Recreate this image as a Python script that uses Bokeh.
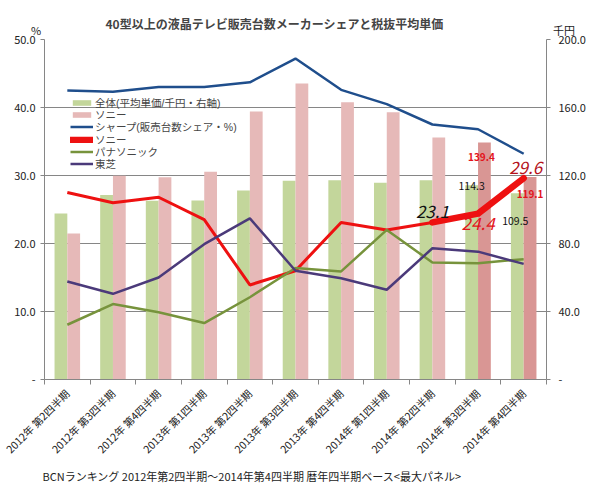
from math import pi
from bokeh.plotting import figure
from bokeh.models import (ColumnDataSource, Range1d, LinearAxis, FixedTicker,
                          PrintfTickFormatter, Legend, LegendItem, Label, Title)
from bokeh.transform import dodge
from bokeh.embed import file_html
from bokeh.resources import INLINE

FONT = "Noto Sans CJK JP"
LFONT = "Liberation Sans, Noto Sans CJK JP"

quarters = ["2012年 第2四半期", "2012年 第3四半期", "2012年 第4四半期",
            "2013年 第1四半期", "2013年 第2四半期", "2013年 第3四半期",
            "2013年 第4四半期", "2014年 第1四半期", "2014年 第2四半期",
            "2014年 第3四半期", "2014年 第4四半期"]

# average price (thousand yen, right axis)
price_all = [97.6, 108.6, 105.1, 105.3, 111.2, 116.9, 117.2, 115.7, 117.2, 114.3, 109.5]
price_sony = [85.9, 119.9, 118.9, 122.2, 157.7, 174.1, 163.1, 157.2, 142.3, 139.4, 119.1]

# unit share (%, left axis)
share_sharp = [42.5, 42.3, 43.0, 43.0, 43.7, 47.2, 42.6, 40.5, 37.5, 36.8, 33.2]
share_sony = [27.5, 26.0, 26.8, 23.5, 13.9, 16.0, 23.1, 22.0, 23.1, 24.4, 29.6]
share_panasonic = [8.05, 11.1, 9.9, 8.3, 12.1, 16.4, 15.9, 22.0, 17.2, 17.1, 17.7]
share_toshiba = [14.4, 12.6, 15.0, 19.9, 23.7, 16.0, 14.9, 13.2, 19.3, 18.8, 17.0]

left_ticks = [0, 10, 20, 30, 40, 50]
right_ticks = [0, 40, 80, 120, 160, 200]

n = len(quarters)
xc = [i + 0.5 for i in range(n)]
sony_bar_colors = ["#e6b9b8"] * (n - 2) + ["#d99694"] * 2

src = ColumnDataSource(dict(x=xc, price_all=price_all, price_sony=price_sony,
                            sony_color=sony_bar_colors, sharp=share_sharp,
                            sony=share_sony, panasonic=share_panasonic,
                            toshiba=share_toshiba))
hl = ColumnDataSource(dict(x=xc[8:], y=share_sony[8:]))

p = figure(width=600, height=486, output_backend="svg", toolbar_location=None,
           x_range=Range1d(0, n), y_range=Range1d(0, 50),
           min_border_left=44, min_border_right=54, min_border_top=39,
           min_border_bottom=107)
p.extra_y_ranges = {"price": Range1d(0, 200)}
p.outline_line_color = None
p.background_fill_color = "white"

AX = "#868686"
TXT = "#222222"

# title
p.title.text = "40型以上の液晶テレビ販売台数メーカーシェアと税抜平均単価"
p.title.text_font = FONT
p.title.text_font_size = "12px"
p.title.text_font_style = "bold"
p.title.align = "left"
p.title.offset = 61
p.title.standoff = 15

# x axis
xa = p.xaxis[0]
xa.ticker = FixedTicker(ticks=xc, minor_ticks=list(range(n + 1)))
xa.major_label_overrides = {x: q for x, q in zip(xc, quarters)}
xa.major_label_orientation = pi / 4
xa.major_tick_line_color = None
xa.minor_tick_line_color = AX
xa.minor_tick_out = 5
xa.minor_tick_in = 0
xa.axis_line_color = AX
xa.major_label_text_font = FONT
xa.major_label_text_font_size = "10.5px"
xa.major_label_text_color = TXT
xa.major_label_standoff = 6

# left axis
ya = p.yaxis[0]
ya.ticker = FixedTicker(ticks=left_ticks)
ya.formatter = PrintfTickFormatter(format="%.1f")
ya.major_label_overrides = {0: "-"}
ya.axis_line_color = AX
ya.major_tick_line_color = AX
ya.major_tick_out = 4
ya.major_tick_in = 0
ya.minor_tick_line_color = None
ya.major_label_text_font = FONT
ya.major_label_text_font_size = "11px"
ya.major_label_text_color = TXT
ya.major_label_standoff = 5
ya.axis_label = "%\n "
ya.axis_label_orientation = "horizontal"
ya.axis_label_align = "end"
ya.axis_label_standoff = -30
ya.axis_label_text_font = FONT
ya.axis_label_text_font_size = "11px"
ya.axis_label_text_font_style = "normal"
ya.axis_label_text_color = TXT

# right axis
ra = LinearAxis(y_range_name="price", ticker=FixedTicker(ticks=right_ticks),
                formatter=PrintfTickFormatter(format="%.1f"))
ra.major_label_overrides = {0: "-"}
ra.axis_line_color = AX
ra.major_tick_line_color = AX
ra.major_tick_out = 4
ra.major_tick_in = 0
ra.minor_tick_line_color = None
ra.major_label_text_font = FONT
ra.major_label_text_font_size = "11px"
ra.major_label_text_color = TXT
ra.major_label_standoff = 8
ra.axis_label = "千円\n "
ra.axis_label_orientation = "horizontal"
ra.axis_label_align = "end"
ra.axis_label_standoff = -36
ra.axis_label_text_font = FONT
ra.axis_label_text_font_size = "11px"
ra.axis_label_text_font_style = "normal"
ra.axis_label_text_color = TXT
p.add_layout(ra, "right")

p.xgrid.grid_line_color = None
p.ygrid.ticker = FixedTicker(ticks=left_ticks)
p.ygrid.grid_line_color = AX
p.ygrid.grid_line_width = 1

# bars
bar_all = p.vbar(x=dodge("x", -0.14), top="price_all", width=0.28, source=src,
                 y_range_name="price", fill_color="#c3d69b", line_color=None)
bar_sony = p.vbar(x=dodge("x", 0.14), top="price_sony", width=0.28, source=src,
                  y_range_name="price", fill_color="sony_color", line_color=None)

# lines
l_sharp = p.line("x", "sharp", source=src, line_color="#1f4e8c", line_width=2.5)
l_sony = p.line("x", "sony", source=src, line_color="#ee1111", line_width=3)
l_sony_hl = p.line("x", "y", source=hl, line_color="#ee1111", line_width=6.5,
                   line_cap="round", line_join="round")
l_pana = p.line("x", "panasonic", source=src, line_color="#77933c", line_width=2.5)
l_tosh = p.line("x", "toshiba", source=src, line_color="#4b3a7a", line_width=2.5)

legend_items = [
    LegendItem(label="全体(平均単価/千円・右軸)", renderers=[bar_all]),
    LegendItem(label="ソニー", renderers=[bar_sony], index=0),
    LegendItem(label="シャープ(販売台数シェア・%)", renderers=[l_sharp]),
    LegendItem(label="ソニー", renderers=[l_sony_hl]),
    LegendItem(label="パナソニック", renderers=[l_pana]),
    LegendItem(label="東芝", renderers=[l_tosh]),
]
# one legend per row so the rows can sit as tightly as in the original
for i, item in enumerate(legend_items):
    lg = Legend(items=[item], location=(26, round(269 - 12.2 * i)))
    lg.background_fill_alpha = 0
    lg.border_line_color = None
    lg.label_text_font = LFONT
    lg.label_text_font_size = "10.5px"
    lg.label_height = 12
    lg.glyph_height = 7
    lg.glyph_width = 23
    lg.label_standoff = 2
    lg.spacing = 0
    lg.padding = 0
    lg.margin = 0
    p.add_layout(lg, "center")

# value annotations
def lab(x, y, text, dx, dy, size, color, style, yr="default"):
    p.add_layout(Label(x=x, y=y, x_offset=dx, y_offset=dy, text=text,
                       y_range_name=yr, text_font=FONT, text_font_size=size,
                       text_color=color, text_font_style=style,
                       text_align="center", text_baseline="middle"))

lab(xc[9] + 0.14, price_sony[9], f"{price_sony[9]:.1f}", -3, -14, "10px", "#e3141c", "bold", "price")
lab(xc[10] + 0.14, price_sony[10], f"{price_sony[10]:.1f}", 0, -17, "10px", "#e3141c", "bold", "price")
lab(xc[9] - 0.14, price_all[9], f"{price_all[9]:.1f}", 0, -1, "10.5px", "#111111", "normal", "price")
lab(xc[10] - 0.14, price_all[10], f"{price_all[10]:.1f}", -2, -28, "10.5px", "#111111", "normal", "price")
lab(xc[8], share_sony[8], f"{share_sony[8]:.1f}", 0, 11, "17px", "#111111", "italic")
lab(xc[9], share_sony[9], f"{share_sony[9]:.1f}", 0, -10, "17px", "#e3141c", "italic")
lab(xc[10], share_sony[10], f"{share_sony[10]:.1f}", 2, 11, "17px", "#b5121b", "italic")

# footer
p.add_layout(Title(text="BCNランキング 2012年第2四半期～2014年第4四半期 暦年四半期ベース<最大パネル>",
                   text_font=FONT, text_font_size="11px", text_font_style="normal",
                   text_color=TXT, align="left", offset=-2, standoff=3), "below")

open("out.html", "w").write(file_html(p, INLINE))
